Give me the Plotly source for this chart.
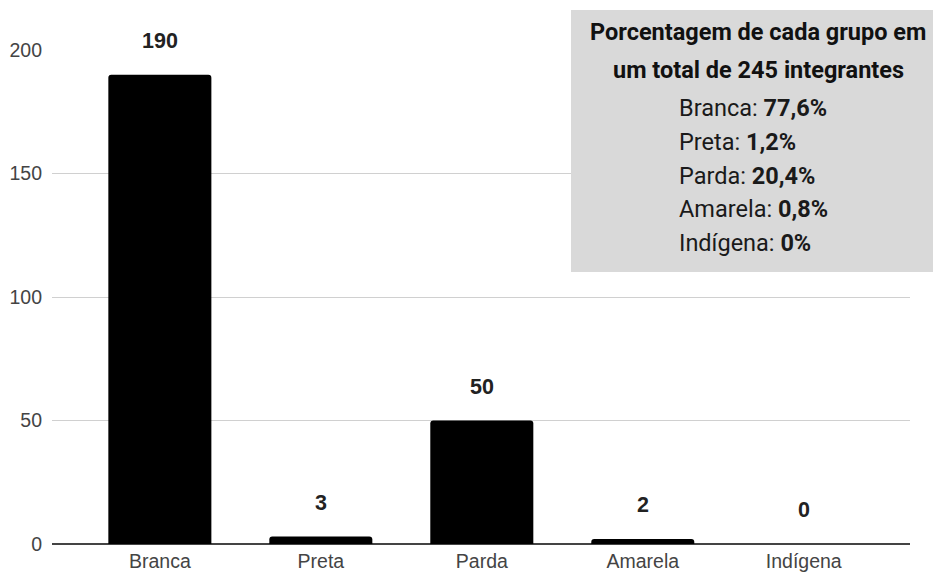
import plotly.graph_objects as go

# Data
categories = ["Branca", "Preta", "Parda", "Amarela", "Indígena"]
counts = [190, 3, 50, 2, 0]
percentages = [77.6, 1.2, 20.4, 0.8, 0]
y_ticks = [0, 50, 100, 150, 200]

W, H = 933, 572
L, R, T, B = 52, 23, 50, 28
plot_w = W - L - R
plot_h = H - T - B


def px_x(p):
    return (p - L) / plot_w


def px_y(p):
    return (H - B - p) / plot_h


fig = go.Figure()
fig.add_trace(go.Bar(
    x=categories,
    y=counts,
    marker=dict(color="#000000", line=dict(width=0), cornerradius=3),
    width=0.64,
    hoverinfo="x+y",
))

# Value labels above each bar
for cat, val in zip(categories, counts):
    fig.add_annotation(
        x=cat, y=val, xref="x", yref="y",
        text=f"<b>{val}</b>", showarrow=False,
        yanchor="middle", yshift=34,
        font=dict(family="Liberation Sans, Arial, sans-serif", size=21.5, color="#222222"),
    )

# Summary box
fig.add_shape(
    type="rect", xref="paper", yref="paper",
    x0=px_x(571), x1=px_x(W + 5), y0=px_y(272), y1=px_y(10),
    fillcolor="#d9d9d9", line=dict(width=0), layer="above",
)

total = sum(counts)
title_lines = ["Porcentagem de cada grupo em", f"um total de {total} integrantes"]
for i, line in enumerate(title_lines):
    fig.add_annotation(
        x=px_x(758), y=px_y(32.5 + 37 * i), xref="paper", yref="paper",
        text=f"<b>{line}</b>", showarrow=False,
        xanchor="center", yanchor="middle",
        font=dict(family="Roboto, sans-serif", size=23.5, color="#111111"),
    )

for i, (cat, p) in enumerate(zip(categories, percentages)):
    pct = f"{p:g}".replace(".", ",")
    fig.add_annotation(
        x=px_x(677), y=px_y(108 + 33.8 * i), xref="paper", yref="paper",
        text=f"{cat}: <b>{pct}%</b>", showarrow=False,
        xanchor="left", yanchor="middle", align="left",
        font=dict(family="Roboto, sans-serif", size=23.5, color="#1a1a1a"),
    )

fig.update_layout(
    width=W, height=H,
    margin=dict(l=L, r=R, t=T, b=B, pad=0),
    plot_bgcolor="#ffffff", paper_bgcolor="#ffffff",
    showlegend=False,
    xaxis=dict(
        range=[-0.67, 4.66], automargin=False,
        showgrid=False, showline=False, zeroline=False,
        ticks="", tickfont=dict(family="Liberation Sans, Arial, sans-serif", size=19.5, color="#444444"),
        ticklabelstandoff=3,
    ),
    yaxis=dict(
        range=[0, 200], automargin=False,
        tickvals=y_ticks,
        showgrid=True, gridcolor="#d0d0d0", gridwidth=1,
        zeroline=True, zerolinecolor="#444444", zerolinewidth=1.5,
        showline=False, ticks="",
        tickfont=dict(family="Liberation Sans, Arial, sans-serif", size=19.5, color="#444444"),
        ticklabelstandoff=9,
    ),
)

fig.write_html("out.html")
